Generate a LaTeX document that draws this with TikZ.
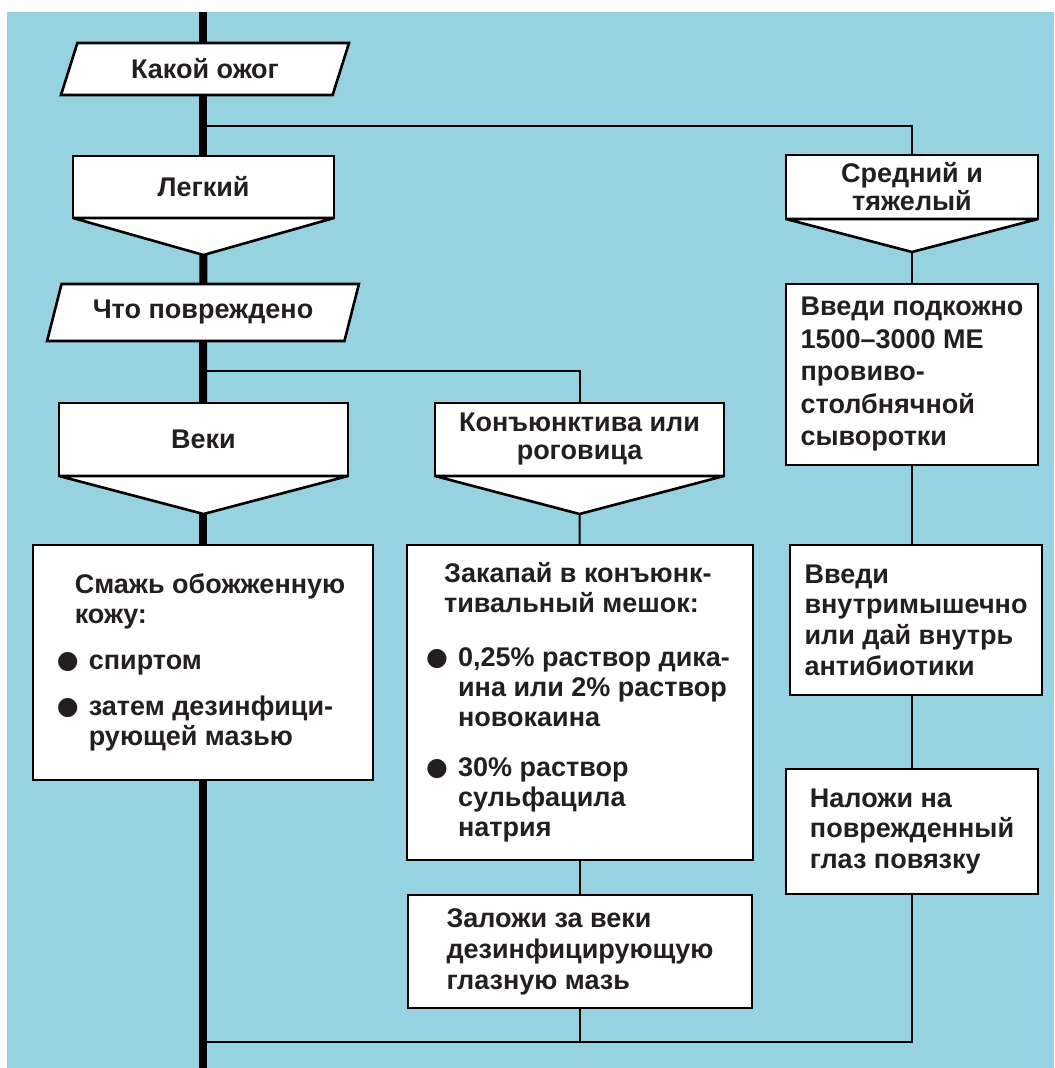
\documentclass[tikz,border=0pt]{standalone}
\usepackage{fontspec}
\setmainfont{Liberation Sans}
\newfontfamily\dotfont{DejaVu Sans}
\usetikzlibrary{positioning,shapes.geometric,calc}
\definecolor{skyblue}{HTML}{97D2E0}
\definecolor{inkgray}{HTML}{231F20}

% bullet, heading indent and continuation indent inside the step boxes
\newcommand\bul{\makebox[7pt]{\raisebox{0.6pt}{\dotfont\fontsize{12.5}{12.5}\selectfont ●}}\hspace{7pt}}
\newcommand\lead{\hspace*{7pt}}
\newcommand\cont{\hspace*{14pt}}

\tikzset{
    frame/.style={draw=black, line width=1.3pt, fill=white, outer sep=0pt},
}

\begin{document}
\begin{tikzpicture}[
    x=0.5pt, y=-0.5pt,
    every node/.style={font=\bfseries\fontsize{13.5}{15}\selectfont, text=inkgray},
    query/.style={
        frame, trapezium, trapezium left angle=65, trapezium right angle=115,
        trapezium stretches=true, minimum width=#1, minimum height=26pt, inner sep=0pt
    },
    choice/.style={
        frame, rectangle, minimum width=#1, minimum height=30.5pt,
        align=center, inner sep=0pt, font=\bfseries\fontsize{13.5}{14}\selectfont
    },
    action/.style={frame, rectangle, align=left, inner sep=0pt},
    spine/.style={line width=4pt},
    wire/.style={line width=1pt},
]

% === Background ===
\useasboundingbox (0,0) rectangle (1054,1068);
\fill[skyblue] (7,12) rectangle (1054,1068);

\coordinate (top) at (203,12);
\coordinate (bottom) at (203,1068);
\coordinate (fork1) at (203,126);
\coordinate (fork2) at (203,371);
\coordinate (join) at (203,1042);

% === Questions and choices ===
\node[query=145pt] (kakoj) at (205,69) {Какой ожог};
\node[choice=130.5pt, minimum height=31pt] (legk) at (203.5,187) {Легкий};
\node[choice=126pt, minimum height=32pt] (sred) at (912,187) {Средний и\\тяжелый};
\node[query=156pt, minimum height=28.5pt] (chto) at (203,312.5) {Что повреждено};
\node[choice=144.5pt, minimum height=36.5pt] (veki) at (203.5,439.5) {Веки};
\node[choice=144.5pt, minimum height=36.5pt] (konj) at (579.5,439.5) {Конъюнктива или\\роговица};

% pointed bottoms of the choices
\foreach \n/\d in {legk/18.5pt,sred/16.5pt,veki/19pt,konj/19pt}{
    \draw[frame, line join=bevel] (\n.south west) -- ([yshift=-\d]\n.south) coordinate (\n-tip)
        -- (\n.south east) -- cycle;
}

% === Left column ===
\node[action, minimum width=170pt, minimum height=117.5pt] (smaz) at (203,662.5)
    {\lead Смажь обожженную\\\lead кожу:\\[8pt]\bul спиртом\\[8pt]\bul затем дезинфици-\\\cont рующей мазью};

% === Middle column ===
\node[action, minimum width=173pt, minimum height=157.5pt] (zakap) at (580,702.5)
    {\lead Закапай в конъюнк-\\\lead тивальный мешок:\\[12pt]\bul 0,25\% раствор дика-\\\cont ина или 2\% раствор\\\cont новокаина\\[10pt]\bul 30\% раствор\\\cont сульфацила\\\cont натрия};
\node[action, minimum width=172pt, minimum height=56.5pt, below=17.5pt of zakap,
    font=\bfseries\fontsize{13.5}{15.5}\selectfont] (zalozh)
    {Заложи за веки\\дезинфицирующую\\глазную мазь};

% === Right column ===
\node[action, minimum width=126pt, minimum height=90.5pt,
    font=\bfseries\fontsize{13.5}{16.25}\selectfont] (vvedi1) at (912,374.5)
    {Введи подкожно\\1500–3000 МЕ\\провиво-\\столбнячной\\сыворотки};
\node[action, minimum width=126pt, minimum height=75pt,
    font=\bfseries\fontsize{13.5}{15.3}\selectfont] (vvedi2) at (916,620)
    {Введи\\внутримышечно\\или дай внутрь\\антибиотики};
\node[action, minimum width=126pt, minimum height=62.5pt,
    font=\bfseries\fontsize{13.5}{15.3}\selectfont] (nalozh) at (912,831.5)
    {Наложи на\\поврежденный\\глаз повязку};

% === Main line ===
\draw[spine] (top) -- (kakoj.north -| top);
\draw[spine] (kakoj.south -| top) -- (legk.north -| top);
\draw[spine] (legk-tip) -- (chto);
\draw[spine] (chto) -- (veki.north -| top);
\draw[spine] (veki-tip -| top) -- (smaz);
\draw[spine] (smaz) -- (bottom);

% === Branches ===
\draw[wire] (fork1) -| (sred);
\draw[wire] (fork2) -| (konj);
\draw[wire] (sred-tip) -- (vvedi1);
\draw[wire] (vvedi1) -- (vvedi1 |- vvedi2.north);
\draw[wire] (vvedi2.south -| vvedi1) -- (nalozh);
\draw[wire] (konj-tip) -- (zakap);
\draw[wire] (zakap) -- (zalozh);
\draw[wire] (nalozh) |- (join);
\draw[wire] (zalozh) |- (join);

\end{tikzpicture}
\end{document}
